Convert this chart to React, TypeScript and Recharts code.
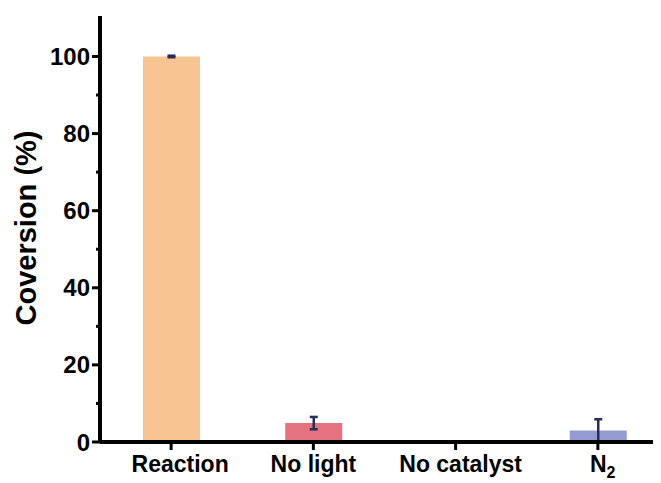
import React from 'react';
import { BarChart, Bar, XAxis, YAxis, ErrorBar, Cell } from 'recharts';

const categories = ['Reaction', 'No light', 'No catalyst', 'N2'];
const conversion = [100, 4.9, 0, 3.0];
const conversionErr: (number | null)[] = [0.2, 1.6, null, 2.9];
const barColors = ['#F8C492', '#E4737F', '#FFFFFF', '#959BD0'];
const yTicks = [0, 10, 20, 30, 40, 50, 60, 70, 80, 90, 100];
const yLabelTicks = [0, 20, 40, 60, 80, 100];

const FONT = '"Liberation Sans", Arial, sans-serif';
const ERR_COLOR = '#262C5C';

// labels sit a little right of their tick in the original layout
const labelNudge: Record<string, number> = { Reaction: 9, 'No light': 0, 'No catalyst': 5, N2: 0 };

const data = categories.map((name, i) => ({
  name,
  value: conversion[i],
  err: conversionErr[i],
}));

// y ticks: long marks with labels on the even steps, short marks between them
const YTick = (props: any) => {
  const { x, y, payload } = props;
  const axisX = x + 9;
  const major = yLabelTicks.includes(payload.value);
  return (
    <g>
      <line x1={axisX} x2={axisX - (major ? 8 : 4)} y1={y} y2={y} stroke="#000" strokeWidth={3} />
      {major && (
        <text
          x={axisX - 10}
          y={y}
          textAnchor="end"
          dominantBaseline="central"
          fontSize={24}
          fontWeight="bold"
          fontFamily={FONT}
          fill="#000"
        >
          {payload.value}
        </text>
      )}
    </g>
  );
};

const XTick = (props: any) => {
  const { x, y, payload } = props;
  const common = { fontSize: 23, fontWeight: 'bold' as const, fontFamily: FONT, fill: '#000' };
  if (payload.value === 'N2') {
    return (
      <text x={x - 8} y={y + 20} textAnchor="start" {...common}>
        N
        <tspan fontSize={16} dy={6}>2</tspan>
      </text>
    );
  }
  return (
    <text x={x + (labelNudge[payload.value] || 0)} y={y + 20} textAnchor="middle" {...common}>
      {payload.value}
    </text>
  );
};

const YLabel = (props: any) => {
  const { viewBox } = props;
  const cx = viewBox.x + 18;
  const cy = viewBox.y + viewBox.height / 2 - 1;
  return (
    <text
      x={cx}
      y={cy}
      transform={`rotate(-90, ${cx}, ${cy})`}
      textAnchor="middle"
      dominantBaseline="central"
      fontSize={29}
      fontWeight="bold"
      fontFamily={FONT}
      fill="#000"
    >
      Coversion (%)
    </text>
  );
};

export default function App() {
  return (
    <div style={{ width: 653, height: 475, overflow: 'hidden', background: '#fff' }}>
      <BarChart
        width={700}
        height={475}
        data={data}
        margin={{ top: 8, right: 39, left: 0, bottom: 0 }}
      >
        <XAxis
          dataKey="name"
          height={41}
          tick={<XTick />}
          tickSize={8}
          tickMargin={2}
          tickLine={{ stroke: '#000', strokeWidth: 3 }}
          axisLine={{ stroke: '#000', strokeWidth: 4 }}
          interval={0}
        />
        <XAxis
          xAxisId="top"
          dataKey="name"
          orientation="top"
          height={0}
          tick={false}
          tickLine={false}
          axisLine={{ stroke: '#000', strokeWidth: 4.5 }}
        />
        <YAxis
          domain={[0, 110.5]}
          ticks={yTicks}
          width={92}
          tickSize={7}
          tickMargin={2}
          tickLine={false}
          tick={<YTick />}
          axisLine={{ stroke: '#000', strokeWidth: 4 }}
          interval={0}
          label={<YLabel />}
        />
        <Bar dataKey="value" barSize={57} isAnimationActive={false}>
          {data.map((d, i) => (
            <Cell key={d.name} fill={barColors[i]} />
          ))}
          <ErrorBar
            dataKey="err"
            width={4}
            stroke={ERR_COLOR}
            strokeWidth={2.5}
            isAnimationActive={false}
          />
        </Bar>
      </BarChart>
    </div>
  );
}
